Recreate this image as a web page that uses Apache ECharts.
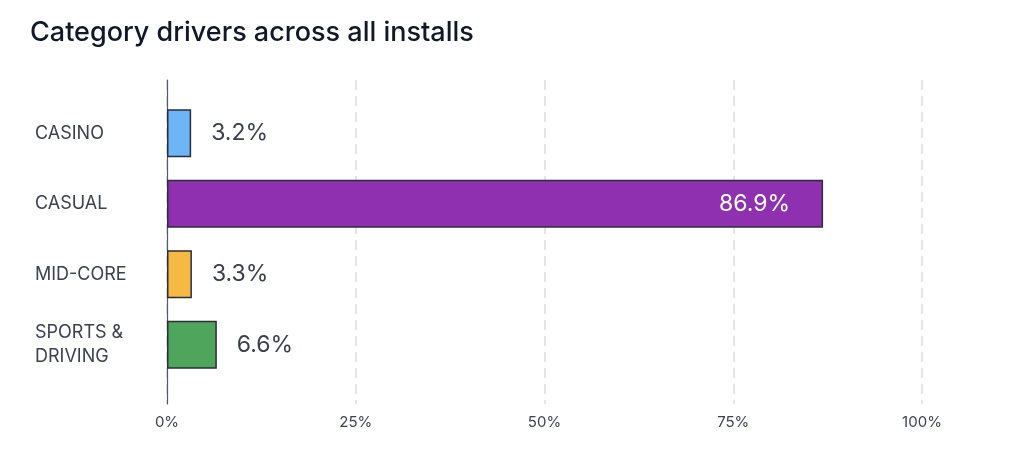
<!DOCTYPE html>
<html>
<head>
<meta charset="utf-8">
<script src="https://cdn.jsdelivr.net/npm/echarts@6/dist/echarts.min.js"></script>
<style>
html,body{margin:0;padding:0;background:#fff;}
#chart{width:1024px;height:468px;}
</style>
</head>
<body>
<div id="chart"></div>
<script>
const titleText = 'Category drivers across all installs';
const categories = ['CASINO', 'CASUAL', 'MID-CORE', 'SPORTS &\nDRIVING'];
const values = [3.2, 86.9, 3.3, 6.6];
const barColors = ['#6db5f4', '#8e30b0', '#f5b944', '#4fa55b'];
const xTicks = [0, 25, 50, 75, 100];

const FONT = 'Inter, "Noto Sans", sans-serif';
const chart = echarts.init(document.getElementById('chart'));

chart.setOption({
  backgroundColor: '#ffffff',
  animation: false,
  title: {
    text: titleText,
    left: 25,
    top: 14,
    textStyle: { fontFamily: FONT, fontSize: 27, fontWeight: 500, color: '#111827' }
  },
  grid: [
    { left: 167, right: 102, top: 80, bottom: 64 },
    { left: 167, right: 102, top: 98, bottom: 88 }
  ],
  xAxis: [
    {
      gridIndex: 0, type: 'value', min: xTicks[0], max: xTicks[xTicks.length - 1], interval: 25,
      axisLine: { show: false }, axisTick: { show: false },
      axisLabel: { formatter: '{value}%', margin: 11, color: '#3c4150', fontFamily: FONT, fontSize: 15 },
      splitLine: { show: true, lineStyle: { color: '#dcdcec', type: [10, 6], width: 1.5 } }
    },
    {
      gridIndex: 1, type: 'value', min: 0, max: 100,
      show: false, splitLine: { show: false }
    }
  ],
  yAxis: [
    {
      gridIndex: 0, type: 'value', min: 0, max: 1,
      axisLine: { show: true, lineStyle: { color: '#555a66', width: 1.2 } },
      axisTick: { show: false }, axisLabel: { show: false }, splitLine: { show: false }
    },
    {
      gridIndex: 1, type: 'category', data: categories, inverse: true,
      axisLine: { show: false }, axisTick: { show: false },
      axisLabel: { align: 'left', margin: 132, color: '#3c4150', fontFamily: FONT, fontSize: 18, lineHeight: 24 },
      splitLine: { show: false }
    }
  ],
  series: [{
    type: 'bar',
    xAxisIndex: 1, yAxisIndex: 1,
    barWidth: 48,
    data: values.map((v, i) => ({
      value: v,
      itemStyle: { color: barColors[i] },
      label: v > 50 ? { position: 'insideRight', distance: 33, color: '#ffffff' } : {}
    })),
    itemStyle: { borderColor: '#2a2e3a', borderWidth: 1.5 },
    label: {
      show: true, position: 'right', distance: 20,
      formatter: p => p.value.toFixed(1) + '%',
      color: '#3a3f4b', fontFamily: FONT, fontSize: 23
    }
  }]
});
</script>
</body>
</html>
